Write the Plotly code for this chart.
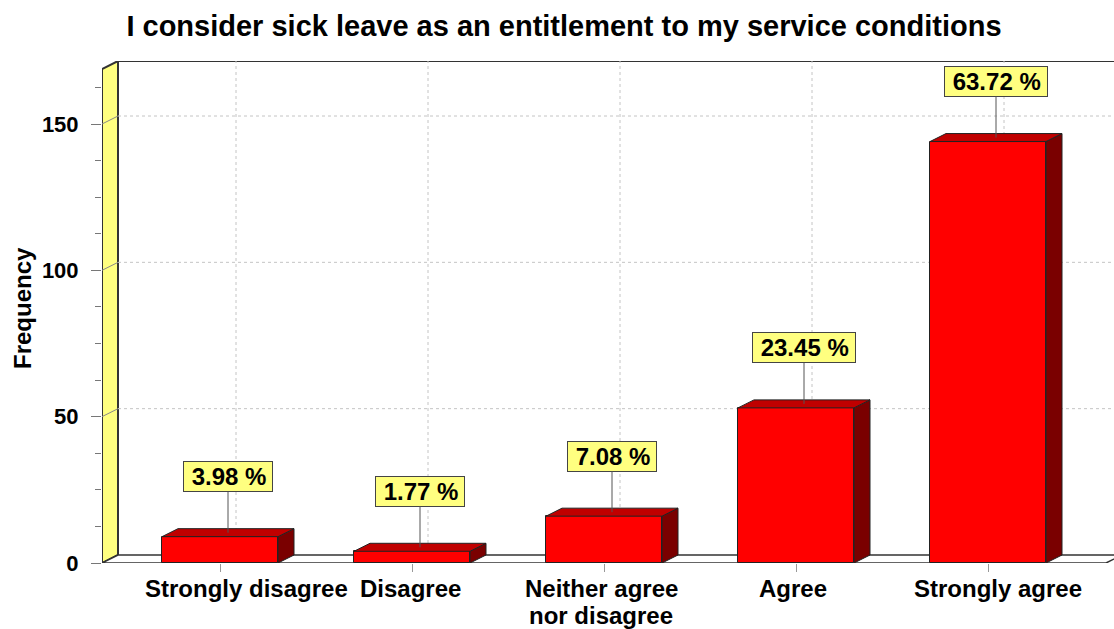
import plotly.graph_objects as go

# Survey responses: "I consider sick leave as an entitlement to my service conditions"
categories = ["Strongly disagree", "Disagree", "Neither agree<br>nor disagree", "Agree", "Strongly agree"]
frequency = [9, 4, 16, 53, 144]
y_ticks = [0, 50, 100, 150]
label_xshift = [26, -2, -3, -3, 10]

total = sum(frequency)
percent = [100.0 * f / total for f in frequency]

# ---- geometry of the pseudo-3D box (pixels -> data units) ----
W, H = 1114, 629
PLOT_L, PLOT_R, PLOT_T, PLOT_B = 102, 1114, 61, 563
PX_PER_CAT = 192.0
PX_PER_UNIT = (563 - 124) / 150.0
X_MIN = (PLOT_L - 220) / PX_PER_CAT
X_MAX = X_MIN + (PLOT_R - PLOT_L) / PX_PER_CAT
Y_MAX = (PLOT_B - PLOT_T) / PX_PER_UNIT
DX = 16 / PX_PER_CAT          # depth offset, horizontal
DY = 8 / PX_PER_UNIT          # depth offset, vertical
HALF_W = 58 / PX_PER_CAT      # half bar width
FLOOR_R = (1106 - 220) / PX_PER_CAT
LINE_GAP = 27                 # px between lines of a wrapped category label

FONT = "Liberation Sans, Arial, sans-serif"
EDGE = "#333333"
GRID = "#C4C4C4"
WALL = "#FFFF80"

shapes = []

# back wall top border
shapes.append(dict(type="line", xref="x", yref="y", x0=X_MIN + DX, x1=X_MAX, y0=Y_MAX, y1=Y_MAX,
                   line=dict(color=EDGE, width=2), layer="below"))
# left (yellow) wall
shapes.append(dict(type="path", xref="x", yref="y",
                   path=f"M{X_MIN},0 L{X_MIN},{Y_MAX - DY} L{X_MIN + DX},{Y_MAX} L{X_MIN + DX},{DY} Z",
                   fillcolor=WALL, line=dict(color=EDGE, width=2), layer="below"))
# floor
shapes.append(dict(type="path", xref="x", yref="y",
                   path=f"M{X_MIN},0 L{FLOOR_R},0 L{FLOOR_R + DX},{DY} L{X_MIN + DX},{DY} Z",
                   fillcolor="white", line=dict(color=EDGE, width=1.5), layer="below"))
# horizontal gridlines: diagonal across the side wall, dotted across the back wall
for v in y_ticks[1:]:
    shapes.append(dict(type="line", xref="x", yref="y", x0=X_MIN, x1=X_MIN + DX, y0=v, y1=v + DY,
                       line=dict(color="#888888", width=1), layer="below"))
    shapes.append(dict(type="line", xref="x", yref="y", x0=X_MIN + DX, x1=X_MAX, y0=v + DY, y1=v + DY,
                       line=dict(color=GRID, width=1, dash="dot"), layer="below"))
# vertical gridlines on the back wall
for i in range(len(categories)):
    shapes.append(dict(type="line", xref="x", yref="y", x0=i + DX, x1=i + DX, y0=DY, y1=Y_MAX,
                       line=dict(color=GRID, width=1, dash="dot"), layer="below"))

fig = go.Figure()

# top and side faces of each bar
for i, f in enumerate(frequency):
    l, r = i - HALF_W, i + HALF_W
    fig.add_trace(go.Scatter(
        x=[r, r, r + DX, r + DX, r], y=[0, f, f + DY, DY, 0],
        mode="lines", fill="toself", fillcolor="#7A0000",
        line=dict(color="#222222", width=1), hoverinfo="skip", showlegend=False))
    fig.add_trace(go.Scatter(
        x=[l, l + DX, r + DX, r, l], y=[f, f + DY, f + DY, f, f],
        mode="lines", fill="toself", fillcolor="#C00000",
        line=dict(color="#222222", width=1), hoverinfo="skip", showlegend=False))

# front faces
fig.add_trace(go.Bar(
    x=list(range(len(categories))), y=frequency, width=2 * HALF_W,
    marker=dict(color="#FF0000", line=dict(color="#222222", width=1)),
    hoverinfo="skip", showlegend=False))

annotations = []
# percentage call-outs
for i, (f, p) in enumerate(zip(frequency, percent)):
    annotations.append(dict(
        x=i + DX / 2, y=f + DY / 2, xref="x", yref="y",
        text=f"&nbsp;<b>{p:.2f} %</b>&#8201;", showarrow=True, arrowhead=0, arrowwidth=1,
        arrowcolor="#555555", ax=0, ay=-56, standoff=0,
        bgcolor=WALL, bordercolor="#444444", borderwidth=1, borderpad=1,
        font=dict(family=FONT, size=24, color="black")))
# category labels (wrapped labels drawn line by line)
for i, (c, xs) in enumerate(zip(categories, label_xshift)):
    for k, line in enumerate(c.split("<br>")):
        annotations.append(dict(
            x=i, y=0, xref="x", yref="y", text=f"<b>{line}</b>", showarrow=False,
            xanchor="center", yanchor="top", yshift=-10 - k * LINE_GAP, xshift=xs,
            font=dict(family=FONT, size=24, color="black")))
# y-axis title
annotations.append(dict(
    x=22, y=308, xref="paper", yref="paper", text="<b>Frequency</b>", showarrow=False,
    textangle=-90, xanchor="center", yanchor="middle",
    font=dict(family=FONT, size=24, color="black")))
# convert the pixel position of the y-axis title into paper coordinates
annotations[-1]["x"] = (22 - PLOT_L) / (PLOT_R - PLOT_L)
annotations[-1]["y"] = (PLOT_B - 308) / (PLOT_B - PLOT_T)

fig.update_layout(
    width=W, height=H,
    margin=dict(l=PLOT_L, r=W - PLOT_R, t=PLOT_T, b=H - PLOT_B),
    paper_bgcolor="white", plot_bgcolor="white",
    bargap=0,
    title=dict(text="<b>I consider sick leave as an entitlement to my service conditions</b>",
               x=564 / W, xanchor="center", y=1 - 26 / H, yanchor="middle", yref="container",
               font=dict(family=FONT, size=29, color="black")),
    xaxis=dict(range=[X_MIN, X_MAX], showgrid=False, zeroline=False, showline=False,
               tickvals=list(range(len(categories))), showticklabels=False,
               ticks="outside", ticklen=8, tickcolor="#999999", fixedrange=True),
    yaxis=dict(range=[0, Y_MAX], showgrid=False, zeroline=False, showline=False,
               tickvals=y_ticks, ticks="outside", ticklen=10, tickcolor="#777777",
               ticklabelstandoff=8,
               tickfont=dict(family=FONT, size=22, color="black", weight="bold"),
               minor=dict(dtick=12.5, ticks="outside", ticklen=6, tickcolor="#777777", showgrid=False)),
    shapes=shapes,
    annotations=annotations,
)

fig.write_html("out.html")
